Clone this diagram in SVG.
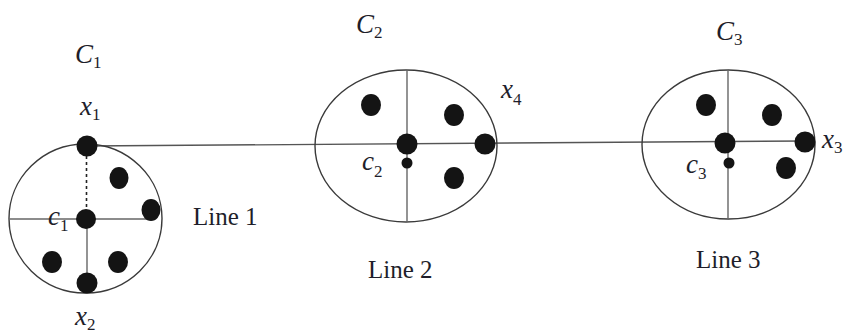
<svg xmlns="http://www.w3.org/2000/svg" width="843" height="335" viewBox="0 0 843 335">
<style>
.bnd{fill:none;stroke:#3a3a3a;stroke-width:1.4}
.ax{stroke:#666;stroke-width:1.4;fill:none}
.dot{fill:#141414}
.t{font-family:"Liberation Serif","Times New Roman",serif;fill:#1e1e2a}
.v{font-style:italic;font-size:27px}
.s{font-style:normal;font-size:17px}
.lbl{font-size:25px}
</style>
<rect width="843" height="335" fill="#fff"/>
<g id="connectors">
<line x1="87" y1="146" x2="805" y2="141" stroke="#555" stroke-width="1.4"/>
</g>
<g id="cluster1">
<ellipse class="bnd" cx="85.5" cy="218.5" rx="76.5" ry="74.5"/>
<line class="ax" x1="9" y1="219" x2="151" y2="219"/>
<line class="ax" x1="87" y1="219" x2="87" y2="283" stroke="#333"/>
<line x1="86.5" y1="156" x2="86.5" y2="210" stroke="#222" stroke-width="1.6" stroke-dasharray="3,3"/>
<circle class="dot" cx="87" cy="146" r="10.5"/>
<circle class="dot" cx="86" cy="219" r="10"/>
<ellipse class="dot" cx="119" cy="178" rx="9.5" ry="11"/>
<ellipse class="dot" cx="151" cy="210" rx="9.5" ry="11"/>
<ellipse class="dot" cx="52" cy="262" rx="10" ry="11"/>
<ellipse class="dot" cx="118" cy="262" rx="10" ry="11"/>
<circle class="dot" cx="87" cy="283" r="10.5"/>
<text class="t v" x="75" y="63">C<tspan class="s" dy="5">1</tspan></text>
<text class="t v" x="80" y="115">x<tspan class="s" dy="5">1</tspan></text>
<text class="t v" x="75" y="325">x<tspan class="s" dy="5">2</tspan></text>
<text class="t v" x="48" y="225">c<tspan class="s" dy="6">1</tspan></text>
</g>
<g id="cluster2">
<ellipse class="bnd" cx="406" cy="146" rx="91" ry="76"/>
<line class="ax" x1="407" y1="70" x2="407" y2="222"/>
<circle class="dot" cx="407" cy="144" r="10.5"/>
<circle class="dot" cx="407" cy="163" r="5.5"/>
<ellipse class="dot" cx="485" cy="144" rx="10.5" ry="10.5"/>
<ellipse class="dot" cx="371" cy="105" rx="10" ry="11"/>
<ellipse class="dot" cx="454" cy="115" rx="10" ry="11"/>
<ellipse class="dot" cx="454" cy="178" rx="10" ry="11"/>
<text class="t v" x="356" y="33">C<tspan class="s" dy="5">2</tspan></text>
<text class="t v" x="501" y="98">x<tspan class="s" dy="7">4</tspan></text>
<text class="t v" x="362" y="170">c<tspan class="s" dy="7">2</tspan></text>
</g>
<g id="cluster3">
<ellipse class="bnd" cx="728.5" cy="144.5" rx="86.5" ry="74.5"/>
<line class="ax" x1="728" y1="70" x2="728" y2="219"/>
<circle class="dot" cx="725" cy="143" r="10.5"/>
<circle class="dot" cx="729" cy="163" r="5.5"/>
<circle class="dot" cx="805" cy="142" r="10.5"/>
<ellipse class="dot" cx="706" cy="105" rx="10" ry="11"/>
<ellipse class="dot" cx="772" cy="115" rx="10" ry="11"/>
<ellipse class="dot" cx="786" cy="168" rx="10" ry="11"/>
<text class="t v" x="716" y="40">C<tspan class="s" dy="5">3</tspan></text>
<text class="t v" x="822" y="148">x<tspan class="s" dy="5">3</tspan></text>
<text class="t v" x="686" y="173">c<tspan class="s" dy="6">3</tspan></text>
</g>
<g id="labels">
<text class="t lbl" x="193" y="225">Line 1</text>
<text class="t lbl" x="368" y="278">Line 2</text>
<text class="t lbl" x="696" y="268">Line 3</text>
</g>
</svg>
